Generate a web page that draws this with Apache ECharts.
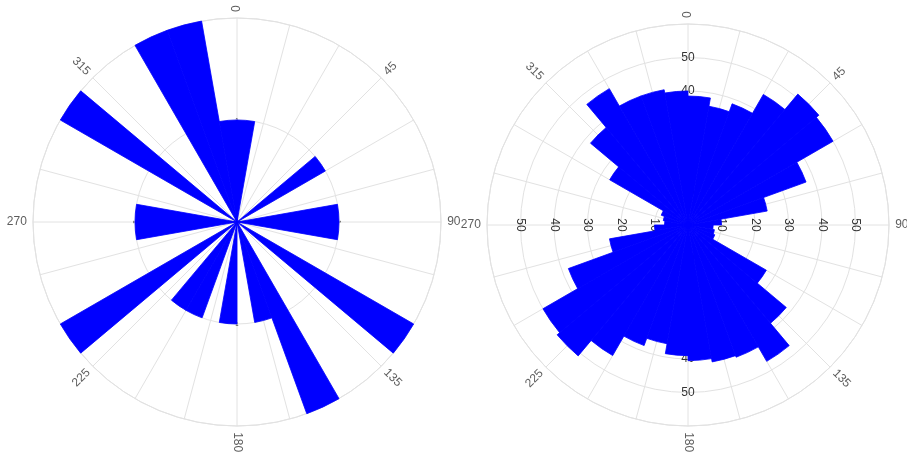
<!DOCTYPE html>
<html>
<head>
<meta charset="utf-8">
<script src="https://cdn.jsdelivr.net/npm/echarts@6/dist/echarts.min.js"></script>
<style>
  html, body { margin: 0; padding: 0; background: #ffffff; }
  #chart { width: 907px; height: 454px; }
</style>
</head>
<body>
<div id="chart"></div>
<script>
// 10-degree direction bins (start of each bin, clockwise from north)
const binStarts = ['0','10','20','30','40','50','60','70','80','90','100','110',
  '120','130','140','150','160','170','180','190','200','210','220','230',
  '240','250','260','270','280','290','300','310','320','330','340','350'];

// left rose: counts per bin
const leftCounts = [1,0,0,0,0,1,0,0,1,1,0,0,
  2,0,0,2,1,0,1,0,1,1,0,2,
  0,0,1,1,0,0,2,0,0,2,2,1];

// right rose: counts per bin
const rightCounts = [38.5,36,38.5,45,51,50,37.5,24,10,7.5,8,8.5,
  27,38.3,47,42,41.5,40.5,39,36,38.3,45,51,50,
  38,23.8,10,7,7.5,8.5,27,38,47,41,41,40];

// compass labels and radial tick labels
const compassTicks = [0,45,90,135,180,225,270,315];
const leftRadiusTicks = [1];
const rightRadiusTicks = [10,20,30,40,50];

const FONT = 'Liberation Sans, Arial, sans-serif';
const GRID = '#e2e2e2';
const TEXT = '#333333';

// text rotation that runs along the radius while staying readable
function radialRotate(a) {
  let r = 90 - a;
  while (r > 90) r -= 180;
  while (r < -90) r += 180;
  return r;
}

const polar = [], angleAxis = [], radiusAxis = [], series = [];

function addRose(center, radius, rMax, rInterval, counts, radiusTicks, tickFont) {
  const base = polar.length;
  // grid: 15-degree spokes and rings
  polar.push({ center: center, radius: radius });
  angleAxis.push({
    polarIndex: base, type: 'value', min: 0, max: 360, interval: 15,
    startAngle: 90, clockwise: true,
    axisLine: { show: true, lineStyle: { color: GRID, width: 1 } },
    axisTick: { show: false },
    axisLabel: { show: false },
    splitLine: { show: true, lineStyle: { color: GRID, width: 1 } }
  });
  radiusAxis.push({
    polarIndex: base, type: 'value', min: 0, max: rMax, interval: rInterval,
    axisLine: { show: false }, axisTick: { show: false }, axisLabel: { show: false },
    splitLine: { show: true, lineStyle: { color: GRID, width: 1 } }
  });
  // compass labels just outside the rim, turned along the radius
  series.push({
    type: 'scatter', coordinateSystem: 'polar', polarIndex: base,
    symbolSize: 1, itemStyle: { color: 'rgba(0,0,0,0)' }, clip: false, silent: true,
    animation: false, z: 1,
    label: {
      show: true, position: 'inside', color: TEXT, fontFamily: FONT, fontSize: 12,
      align: 'center', verticalAlign: 'middle',
      formatter: p => String(p.value[1])
    },
    data: compassTicks.map(a => {
      const gap = 6 + String(a).length * 3.4;
      return { value: [rMax * (1 + gap / radius), a], label: { rotate: radialRotate(a) } };
    })
  });
  // radial tick labels in four directions
  [[90, 0], [0, -90], [-90, 0], [180, -90]].forEach(([start, rot]) => {
    const idx = polar.length;
    polar.push({ center: center, radius: radius });
    angleAxis.push({ polarIndex: idx, type: 'value', min: 0, max: 360, startAngle: start, show: false });
    radiusAxis.push({
      polarIndex: idx, type: 'value', min: 0, max: rMax, interval: rInterval,
      axisLine: { show: false }, axisTick: { show: false }, splitLine: { show: false },
      axisLabel: {
        show: true, margin: 0, rotate: rot, align: 'center', verticalAlign: 'middle',
        color: TEXT, fontFamily: FONT, fontSize: tickFont,
        formatter: v => radiusTicks.includes(v) ? String(v) : ''
      }
    });
  });
  // bars
  const bi = polar.length;
  polar.push({ center: center, radius: radius });
  angleAxis.push({ polarIndex: bi, type: 'category', data: binStarts, startAngle: 90, clockwise: true, show: false });
  radiusAxis.push({ polarIndex: bi, type: 'value', min: 0, max: rMax, show: false });
  series.push({
    type: 'bar', coordinateSystem: 'polar', polarIndex: bi,
    data: counts, barCategoryGap: '0%', barGap: '0%',
    itemStyle: { color: '#0000ff', borderColor: '#0000ff', borderWidth: 0.8 },
    silent: true, animation: false, z: 2
  });
}

addRose([237, 222], 204, 2, 1, leftCounts, leftRadiusTicks, 6);
addRose([688, 225], 201, 60, 10, rightCounts, rightRadiusTicks, 12);

const chart = echarts.init(document.getElementById('chart'), null, { renderer: 'canvas' });
chart.setOption({
  animation: false,
  backgroundColor: '#ffffff',
  polar: polar, angleAxis: angleAxis, radiusAxis: radiusAxis, series: series
});
</script>
</body>
</html>
